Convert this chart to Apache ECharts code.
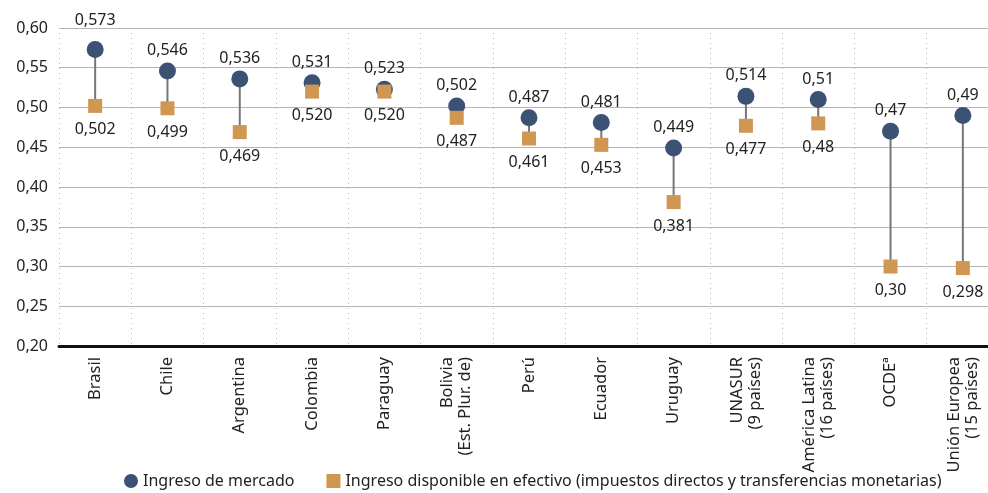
<!DOCTYPE html>
<html><head><meta charset="utf-8">
<script src="https://cdn.jsdelivr.net/npm/echarts@6/dist/echarts.min.js"></script>
<style>html,body{margin:0;padding:0;overflow:hidden;background:#fff}#c{width:999px;height:493px}</style>
</head><body><div id="c"></div>
<script>
const categories = ['Brasil','Chile','Argentina','Colombia','Paraguay','Bolivia\n(Est. Plur. de)','Perú','Ecuador','Uruguay','UNASUR\n(9 países)','América Latina\n(16 países)','OCDEª','Unión Europea\n(15 países)'];
const marketValues = [0.573,0.546,0.536,0.531,0.523,0.502,0.487,0.481,0.449,0.514,0.51,0.47,0.49];
const marketLabels = ['0,573','0,546','0,536','0,531','0,523','0,502','0,487','0,481','0,449','0,514','0,51','0,47','0,49'];
const dispValues = [0.502,0.499,0.469,0.520,0.520,0.487,0.461,0.453,0.381,0.477,0.48,0.30,0.298];
const dispLabels = ['0,502','0,499','0,469','0,520','0,520','0,487','0,461','0,453','0,381','0,477','0,48','0,30','0,298'];
const seriesNames = ['Ingreso de mercado','Ingreso disponible en efectivo (impuestos directos y transferencias monetarias)'];

const FONT = 'Noto Sans';
const chart = echarts.init(document.getElementById('c'));
chart.setOption({
  animation:false,
  textStyle:{fontFamily:FONT},
  grid:{left:59,right:0,top:28,bottom:147},
  legend:{left:119,bottom:-1,itemGap:32,itemWidth:14,itemHeight:14,
    textStyle:{fontSize:16,color:'#222',fontFamily:FONT},
    data:[{name:seriesNames[0],icon:'circle'},{name:seriesNames[1],icon:'rect'}]},
  xAxis:{type:'category',data:categories,
    axisLine:{lineStyle:{color:'#111',width:3}},
    axisTick:{show:false},
    axisLabel:{rotate:90,interval:0,margin:11,fontSize:16.5,color:'#222',lineHeight:18,fontFamily:FONT},
    splitLine:{show:true,interval:0,lineStyle:{color:'#bbb',type:[1,4],width:1}}},
  yAxis:{type:'value',min:0.2,max:0.6,interval:0.05,
    axisLine:{show:false},axisTick:{show:false},
    axisLabel:{fontSize:16,color:'#222',margin:11,fontFamily:FONT,formatter:v=>v.toFixed(2).replace('.',',')},
    splitLine:{lineStyle:{color:'#b5b5b5',width:1}}},
  series:[
    {type:'custom',silent:true,z:1,
     data:categories.map((c,i)=>[i,marketValues[i],dispValues[i]]),
     encode:{x:0,y:[1,2]},
     renderItem:(params,api)=>{
       const p1=api.coord([api.value(0),api.value(1)]);
       const p2=api.coord([api.value(0),api.value(2)]);
       return {type:'line',shape:{x1:p1[0],y1:p1[1],x2:p2[0],y2:p2[1]},style:{stroke:'#777',lineWidth:2}};
     }},
    {name:seriesNames[0],type:'scatter',z:3,symbol:'circle',symbolSize:17,
     itemStyle:{color:'#3c5275',opacity:1},
     data:marketValues.map((v,i)=>i===0?{value:v,label:{distance:13}}:v),
     label:{show:true,position:'top',distance:4,fontSize:16,color:'#222',fontFamily:FONT,
       formatter:p=>marketLabels[p.dataIndex]}},
    {name:seriesNames[1],type:'scatter',z:4,symbol:'rect',symbolSize:14,
     itemStyle:{color:'#cf9752',opacity:1},
     data:dispValues,
     label:{show:true,position:'bottom',distance:9,fontSize:16,color:'#222',fontFamily:FONT,
       formatter:p=>dispLabels[p.dataIndex]}}
  ]
});
</script></body></html>
